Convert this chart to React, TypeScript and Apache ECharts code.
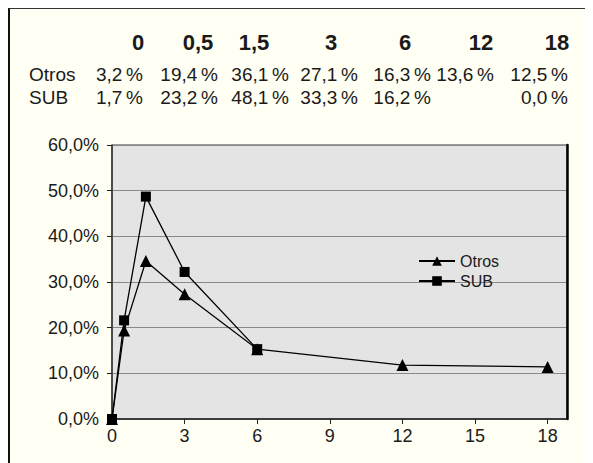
import React, { useEffect, useRef } from "react";
import * as echarts from "echarts";

// Table (as printed above the chart)
const tableHeaders = ["0", "0,5", "1,5", "3", "6", "12", "18"];
const tableOtros = ["3,2\u2009%", "19,4\u2009%", "36,1\u2009%", "27,1\u2009%", "16,3\u2009%", "13,6\u2009%", "12,5\u2009%"];
const tableSub = ["1,7\u2009%", "23,2\u2009%", "48,1\u2009%", "33,3\u2009%", "16,2\u2009%", "", "0,0\u2009%"];

// Plotted series, [x, percent]
const otrosX = [0, 0.5, 1.4, 3, 6, 12, 18];
const otrosY = [0, 19.4, 34.6, 27.3, 15.3, 11.8, 11.4];
const subX = [0, 0.5, 1.4, 3, 6];
const subY = [0, 21.6, 48.7, 32.2, 15.3];

const xTicks = [0, 3, 6, 9, 12, 15, 18];

const FONT = "'Liberation Sans', Arial, Helvetica, sans-serif";
const TXT = "#1a1a1a";

export default function App() {
  const ref = useRef<HTMLDivElement>(null);
  useEffect(() => {
    document.documentElement.style.overflow = "hidden";
    const chart = echarts.init(ref.current!, undefined, { renderer: "svg" });

    const headerX = [128, 188, 244, 321, 395, 471, 547];
    const valueRight = [133, 208, 279, 348, 421, 484, 558];
    const graphics: any[] = [];
    tableHeaders.forEach((h, i) => {
      graphics.push({
        type: "text",
        x: headerX[i],
        y: 33,
        style: {
          text: h,
          font: "bold 22px 'Liberation Sans Narrow', 'Liberation Sans', Arial, sans-serif",
          fill: TXT,
          textAlign: "center",
          textVerticalAlign: "middle",
        },
      });
    });
    const rows: [string, string[], number][] = [
      ["Otros", tableOtros, 65],
      ["SUB", tableSub, 88],
    ];
    rows.forEach(([label, vals, y]) => {
      graphics.push({
        type: "text",
        x: 19,
        y,
        style: { text: label, font: `19px ${FONT}`, fill: TXT, textAlign: "left", textVerticalAlign: "middle" },
      });
      vals.forEach((v, i) => {
        if (!v) return;
        graphics.push({
          type: "text",
          x: valueRight[i],
          y,
          style: { text: v, font: `19px ${FONT}`, fill: TXT, textAlign: "right", textVerticalAlign: "middle" },
        });
      });
    });

    chart.setOption({
      animation: false,
      backgroundColor: "transparent",
      textStyle: { fontFamily: FONT },
      graphic: graphics,
      grid: {
        left: 102,
        top: 136,
        width: 455,
        height: 274,
        show: true,
        backgroundColor: "#e4e4e4",
        borderColor: "#3a3a3a",
        borderWidth: 1,
      },
      legend: {
        orient: "vertical",
        left: 403,
        top: 239,
        itemWidth: 36,
        itemHeight: 12,
        itemGap: 4,
        itemStyle: { color: "#000" },
        textStyle: { fontSize: 16, color: TXT, fontFamily: FONT },
        data: ["Otros", "SUB"],
      },
      xAxis: {
        type: "value",
        min: 0,
        max: 18.8,
        interval: 3,
        axisLine: { show: true, lineStyle: { color: "#222", width: 1.5 } },
        axisTick: { show: true, length: 5, customValues: xTicks, lineStyle: { color: "#222" } },
        axisLabel: {
          customValues: xTicks,
          fontSize: 18,
          color: TXT,
          margin: 8,
          fontFamily: FONT,
        },
        splitLine: { show: false },
      },
      yAxis: [
        {
          type: "value",
          min: 0,
          max: 60,
          interval: 10,
          axisLine: { show: true, lineStyle: { color: "#333", width: 1.5 } },
          axisTick: { show: true, length: 5, lineStyle: { color: "#222" } },
          axisLabel: {
            fontSize: 18,
            color: TXT,
            margin: 13,
            fontFamily: FONT,
            formatter: (v: number) => v.toFixed(1).replace(".", ",") + "%",
          },
          splitLine: { show: true, lineStyle: { color: "#8a8a8a", width: 1.2 } },
        },
        {
          type: "value",
          position: "right",
          min: 0,
          max: 60,
          interval: 10,
          axisLine: { show: true, lineStyle: { color: "#000", width: 2.5 } },
          axisTick: { show: false },
          axisLabel: { show: false },
          splitLine: { show: false },
        },
      ],
      series: [
        {
          name: "Otros",
          type: "line",
          data: otrosX.map((x, i) => [x, otrosY[i]]),
          symbol: "triangle",
          symbolSize: 12,
          lineStyle: { color: "#000", width: 1.3 },
          itemStyle: { color: "#000" },
          z: 2,
        },
        {
          name: "SUB",
          type: "line",
          data: subX.map((x, i) => [x, subY[i]]),
          symbol: "rect",
          symbolSize: 10,
          lineStyle: { color: "#000", width: 1.3 },
          itemStyle: { color: "#000" },
          z: 3,
        },
      ],
    });
    return () => chart.dispose();
  }, []);

  return (
    <div
      style={{
        width: 585,
        height: 455,
        background: "#fffff4",
        borderLeft: "2px solid #111",
        borderTop: "1px solid #333",
        boxSizing: "border-box",
        overflow: "hidden",
      }}
    >
      <div ref={ref} style={{ width: 583, height: 454 }} />
    </div>
  );
}
